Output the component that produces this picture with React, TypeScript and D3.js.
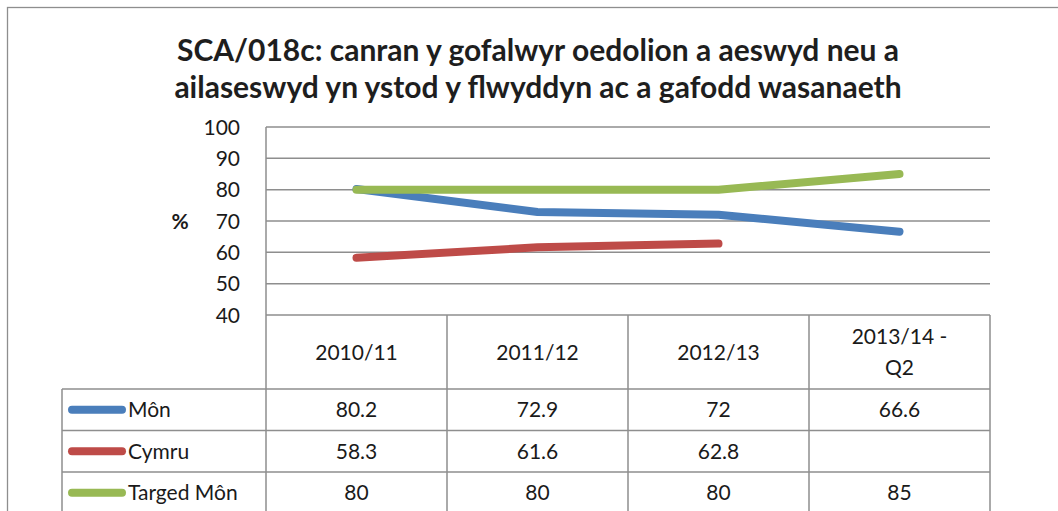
import React from "react";
import * as d3 from "d3";

const categories = ["2010/11", "2011/12", "2012/13", "2013/14 -\nQ2"];
const seriesNames = ["Môn", "Cymru", "Targed Môn"];
const monValues: (number | null)[] = [80.2, 72.9, 72, 66.6];
const cymruValues: (number | null)[] = [58.3, 61.6, 62.8, null];
const targetValues: (number | null)[] = [80, 80, 80, 85];
const seriesColors = ["#4A7EBB", "#BE4B48", "#98B954"];
const yTicks = [40, 50, 60, 70, 80, 90, 100];
const titleLines = [
  "SCA/018c: canran y gofalwyr oedolion a aeswyd neu a",
  "ailaseswyd yn ystod y flwyddyn ac a gafodd wasanaeth",
];

const W = 1058;
const H = 511;
const FONT = "Lato, 'Open Sans', sans-serif";

export default function App() {
  const left = 266;
  const right = 990;
  const top = 127;
  const bottom = 315;
  const y = d3.scaleLinear().domain([40, 100]).range([bottom, top]);
  const x = d3
    .scaleBand<string>()
    .domain(categories)
    .range([left, right])
    .paddingInner(0)
    .paddingOuter(0);
  const cx = (c: string) => (x(c) ?? 0) + x.bandwidth() / 2;

  const allSeries = [monValues, cymruValues, targetValues];
  const line = d3
    .line<[string, number | null]>()
    .defined((d) => d[1] != null)
    .x((d) => cx(d[0]))
    .y((d) => y(d[1] as number));

  const tableLeft = 62;
  const headerBottom = 389;
  const rowH = 41.5;
  const gridColor = "#8E8E8E";
  const textColor = "#1A1A1A";
  const fs = 21;

  const fmt = (v: number | null) => (v == null ? "" : String(v));

  return (
    <svg
      width={W}
      height={H}
      style={{ position: "absolute", left: 0, top: 0, background: "#fff" }}
    >
      <rect x={0} y={0} width={W} height={H} fill="#fff" />
      <rect
        x={7.5}
        y={7.5}
        width={W + 20}
        height={H + 20}
        fill="none"
        stroke="#8E8E8E"
        strokeWidth={1.3}
      />
      {titleLines.map((t, i) => (
        <text
          key={i}
          x={538}
          y={61 + i * 37}
          textAnchor="middle"
          fontFamily={FONT}
          fontWeight="bold"
          fontSize={30}
          fill="#1E1E1E"
        >
          {t}
        </text>
      ))}
      {yTicks
        .filter((t) => t > 40)
        .map((t) => (
          <line
            key={t}
            x1={left}
            x2={right}
            y1={y(t)}
            y2={y(t)}
            stroke={gridColor}
            strokeWidth={1.5}
          />
        ))}
      {yTicks.map((t) => (
        <text
          key={"t" + t}
          x={240}
          y={y(t) + 7.5}
          textAnchor="end"
          fontFamily={FONT}
          fontSize={fs}
          fill={textColor}
        >
          {t}
        </text>
      ))}
      <text
        x={180}
        y={y(70) + 7.5}
        textAnchor="middle"
        fontFamily={FONT}
        fontWeight="bold"
        fontSize={fs}
        fill={textColor}
      >
        %
      </text>
      <line x1={left} x2={left} y1={top} y2={H} stroke={gridColor} strokeWidth={1.5} />
      <line x1={left} x2={right} y1={bottom} y2={bottom} stroke={gridColor} strokeWidth={1.5} />
      {[0, 1, 2, 3].map((i) => (
        <line
          key={"r" + i}
          x1={tableLeft}
          x2={right}
          y1={headerBottom + i * rowH}
          y2={headerBottom + i * rowH}
          stroke={gridColor}
          strokeWidth={1.5}
        />
      ))}
      <line x1={tableLeft} x2={tableLeft} y1={headerBottom} y2={H} stroke={gridColor} strokeWidth={1.5} />
      {categories.map((c) => (
        <line
          key={"v" + c}
          x1={(x(c) ?? 0) + x.bandwidth()}
          x2={(x(c) ?? 0) + x.bandwidth()}
          y1={bottom}
          y2={H}
          stroke={gridColor}
          strokeWidth={1.5}
        />
      ))}
      {categories.map((c) => {
        const parts = c.split("\n");
        const midY = (bottom + headerBottom) / 2;
        return (
          <text
            key={"h" + c}
            textAnchor="middle"
            fontFamily={FONT}
            fontSize={fs}
            fill={textColor}
          >
            {parts.map((p, j) => (
              <tspan
                key={j}
                x={cx(c)}
                y={midY + 7.5 + (j - (parts.length - 1) / 2) * 31}
              >
                {p}
              </tspan>
            ))}
          </text>
        );
      })}
      {seriesNames.map((name, i) => {
        const rowMid = headerBottom + i * rowH + rowH / 2;
        return (
          <g key={name}>
            <line
              x1={72}
              x2={122}
              y1={rowMid}
              y2={rowMid}
              stroke={seriesColors[i]}
              strokeWidth={8}
              strokeLinecap="round"
            />
            <text
              x={128}
              y={rowMid + 7.5}
              fontFamily={FONT}
              fontSize={fs}
              fill={textColor}
            >
              {name}
            </text>
            {categories.map((c, j) => (
              <text
                key={c}
                x={cx(c)}
                y={rowMid + 7.5}
                textAnchor="middle"
                fontFamily={FONT}
                fontSize={fs}
                fill={textColor}
              >
                {fmt(allSeries[i][j])}
              </text>
            ))}
          </g>
        );
      })}
      {allSeries.map((vals, i) => (
        <path
          key={"l" + i}
          d={line(categories.map((c, j) => [c, vals[j]] as [string, number | null])) ?? ""}
          fill="none"
          stroke={seriesColors[i]}
          strokeWidth={8}
          strokeLinecap="round"
          strokeLinejoin="round"
        />
      ))}
    </svg>
  );
}
